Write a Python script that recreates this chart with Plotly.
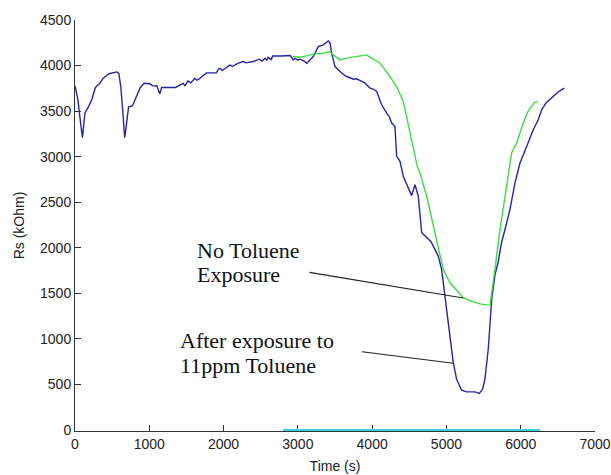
import plotly.graph_objects as go

# Sensor resistance over time, run after toluene exposure (blue)
time_exposed = [0, 40, 65, 100, 134, 170, 223, 275, 328, 380, 459, 564, 590, 616, 642, 669,
                695, 721, 774, 826, 879, 931, 1010, 1040, 1062, 1100, 1141, 1167, 1351, 1456,
                1480, 1520, 1560, 1613, 1640, 1666, 1700, 1770, 1902, 1930, 1954, 1980, 2006,
                2085, 2120, 2190, 2269, 2300, 2400, 2478, 2520, 2557, 2580, 2600, 2640, 2662,
                2767, 2898, 2938, 2960, 3000, 3030, 3073, 3119, 3208, 3275, 3342, 3410, 3432,
                3455, 3500, 3567, 3600, 3657, 3700, 3750, 3790, 3836, 3900, 3971, 4020, 4061,
                4128, 4196, 4230, 4263, 4307, 4330, 4375, 4419, 4465, 4532, 4577, 4621, 4667,
                4700, 4756, 4790, 4823, 4890, 4935, 4957, 5025, 5092, 5137, 5159, 5205, 5272,
                5384, 5442, 5487, 5518, 5563, 5609, 5653, 5698, 5740, 5788, 5855, 5923, 5990,
                6080, 6169, 6236, 6282, 6340, 6439, 6520, 6586]
rs_exposed = [3780, 3620, 3440, 3210, 3480, 3530, 3620, 3760, 3800, 3860, 3910, 3930, 3915, 3770,
              3515, 3210, 3370, 3545, 3560, 3660, 3760, 3805, 3800, 3780, 3775, 3780, 3690, 3760,
              3760, 3805, 3780, 3830, 3810, 3860, 3840, 3850, 3870, 3920, 3920, 3960, 3970, 3945,
              3960, 4005, 3990, 4025, 4045, 4030, 4045, 4070, 4050, 4080, 4060, 4090, 4065, 4105,
              4105, 4110, 4062, 4080, 4060, 4070, 4055, 4026, 4099, 4208, 4227, 4270, 4252, 4136,
              3989, 3934, 3910, 3880, 3870, 3850, 3855, 3836, 3810, 3753, 3740, 3716, 3570, 3479,
              3440, 3369, 3332, 3004, 2949, 2785, 2694, 2573, 2694, 2566, 2165, 2140, 2092, 2070,
              2018, 1909, 1763, 1617, 1179, 741, 558, 522, 438, 419, 419, 402, 449, 558, 887,
              1434, 1700, 1850, 2050, 2201, 2420, 2712, 2931, 3113, 3296, 3405, 3515, 3590, 3661,
              3720, 3752]

# Reference run without toluene exposure (green)
time_clean = [2930, 3028, 3119, 3208, 3342, 3432, 3477, 3567, 3657, 3836, 3926, 3971, 4106,
              4240, 4330, 4419, 4486, 4553, 4607, 4644, 4734, 4823, 4913, 4957, 5048, 5138,
              5227, 5350, 5450, 5586, 5620, 5653, 5721, 5811, 5878, 5945, 6034, 6100, 6177, 6229]
rs_clean = [4099, 4092, 4106, 4125, 4136, 4154, 4117, 4062, 4081, 4106, 4117, 4092, 4026,
            3880, 3770, 3606, 3369, 3100, 2894, 2822, 2566, 2237, 1909, 1763, 1617, 1530,
            1453, 1410, 1385, 1369, 1550, 1763, 2201, 2675, 3041, 3150, 3369, 3500, 3588, 3606]

# Baseline trace lying on the time axis (cyan)
time_base = [2800, 6263]
rs_base = [0, 0]

x_ticks = [0, 1000, 2000, 3000, 4000, 5000, 6000, 7000]
y_ticks = [0, 500, 1000, 1500, 2000, 2500, 3000, 3500, 4000, 4500]

fig = go.Figure()
fig.add_trace(go.Scatter(x=time_exposed, y=rs_exposed, mode="lines",
                         line=dict(color="#2626a6", width=1.4), showlegend=False))
fig.add_trace(go.Scatter(x=time_clean, y=rs_clean, mode="lines",
                         line=dict(color="#3fdc3f", width=1.4), showlegend=False))
fig.add_trace(go.Scatter(x=time_base, y=rs_base, mode="lines",
                         line=dict(color="#3cd2dc", width=2), showlegend=False))

label_font = dict(family="Liberation Serif, Times New Roman, serif", size=22, color="#111")

# Leader lines from the labels to the curves
fig.add_annotation(x=5226, y=1449, ax=3136, ay=1733, xref="x", yref="y", axref="x", ayref="y",
                   showarrow=True, arrowhead=0, arrowwidth=1.1, arrowcolor="#222", text="")
fig.add_annotation(x=5093, y=734, ax=3843, ay=862, xref="x", yref="y", axref="x", ayref="y",
                   showarrow=True, arrowhead=0, arrowwidth=1.1, arrowcolor="#222", text="")

label_lines = [
    (1615, 1976, "No Toluene"),
    (1615, 1702, "Exposure"),
    (1393, 988, "After exposure to"),
    (1393, 714, "11ppm Toluene"),
]
for lx, ly, txt in label_lines:
    fig.add_annotation(x=lx, y=ly, xref="x", yref="y", text=txt, showarrow=False,
                       xanchor="left", yanchor="middle", align="left", font=label_font)

axis_font = dict(family="Liberation Sans, Arial, sans-serif", size=14, color="#222")

fig.update_layout(
    width=611, height=475,
    margin=dict(l=75, r=16, t=20, b=44),
    paper_bgcolor="white", plot_bgcolor="white",
    font=axis_font,
    xaxis=dict(range=[0, 7000], tickvals=x_ticks, ticktext=[str(v) for v in x_ticks],
               showgrid=False, zeroline=False, showline=True, linecolor="#333", linewidth=1,
               ticks="inside", ticklen=6, tickcolor="#333", layer="below traces",
               automargin=False,
               title=dict(text="Time (s)", font=axis_font, standoff=10)),
    yaxis=dict(range=[-10, 4500], tickvals=y_ticks, ticktext=[str(v) for v in y_ticks],
               showgrid=False, zeroline=False, showline=True, linecolor="#333", linewidth=1,
               ticks="inside", ticklen=6, tickcolor="#333", automargin=False,
               title=dict(text="Rs (kOhm)", font=axis_font, standoff=12)),
)

fig.write_html("out.html")
